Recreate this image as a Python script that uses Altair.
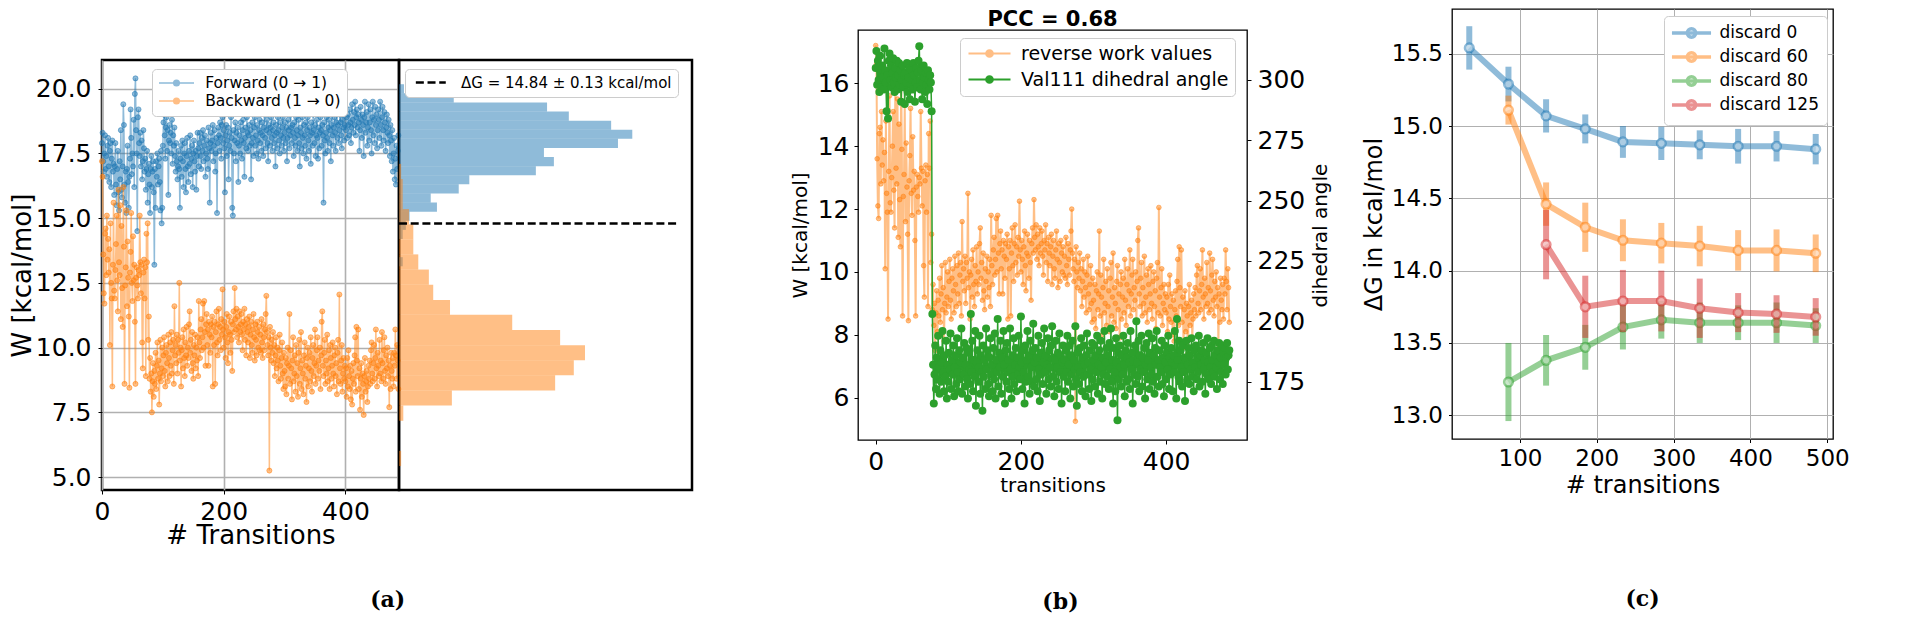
import altair as alt
import pandas as pd

FONT = "DejaVu Sans"
BLUE, ORANGE, GREEN, RED = "#1f77b4", "#ff7f0e", "#2ca02c", "#d62728"

# ---------------- data: panel (a) / (b) work values ----------------
forward_w = [
    17.9, 18.3, 17.2, 16.8, 17.5, 18.2, 16.9, 17.4, 16.6, 17.8, 18.1, 17.0, 16.4, 17.6, 17.9, 16.2, 17.3, 18.0, 16.8, 17.1,
    15.9, 17.0, 17.9, 16.3, 15.5, 16.9, 17.6, 16.0, 15.3, 17.2, 16.5, 18.4, 16.1, 15.8, 17.0, 19.4, 18.6, 16.3, 15.6, 16.8,
    15.2, 16.9, 17.8, 16.4, 15.4, 16.6, 17.3, 19.2, 18.1, 16.7, 17.5, 17.0, 18.8, 16.2, 19.8, 20.4, 18.4, 17.5, 14.5, 18.9,
    19.2, 17.9, 17.4, 18.3, 17.0, 18.0, 16.5, 17.2, 18.4, 17.7, 16.8, 17.3, 16.1, 16.9, 17.6, 15.6, 16.7, 17.1, 16.3, 15.2,
    16.9, 17.4, 16.2, 16.8, 17.2, 16.0, 13.2, 16.9, 15.4, 17.2, 16.6, 17.5, 16.3, 17.0, 17.3, 16.4, 15.3, 17.6, 14.8, 15.4,
    17.8, 18.7, 19.0, 18.2, 17.3, 18.5, 18.9, 17.6, 18.4, 15.9, 18.0, 18.6, 17.9, 18.3, 17.5, 18.8, 17.1, 18.2, 17.8, 18.5,
    17.4, 16.8, 17.9, 17.2, 16.5, 17.0, 17.6, 16.9, 15.4, 17.3, 17.8, 16.6, 18.0, 17.2, 16.2, 17.5, 17.9, 16.9, 16.0, 17.4,
    18.1, 17.0, 16.4, 17.6, 17.1, 18.2, 16.7, 17.3, 17.8, 16.2, 17.5, 18.0, 17.2, 16.8, 17.6, 16.1, 17.4, 18.3, 17.7, 17.0,
    17.9, 18.3, 17.4, 16.9, 18.1, 17.6, 18.4, 17.2, 17.8, 18.2, 16.6, 17.5, 18.0, 17.3, 16.9, 18.5, 17.7, 15.6, 17.9, 18.3,
    17.6, 18.0, 18.6, 17.2, 17.8, 18.4, 16.8, 17.5, 18.1, 15.2, 17.9, 18.5, 18.2, 17.6, 18.7, 18.1, 17.3, 18.6, 18.9, 17.9,
    18.4, 17.7, 16.0, 18.2, 18.6, 17.4, 18.0, 18.5, 16.5, 17.8, 18.3, 17.6, 18.9, 18.1, 15.4, 15.1, 18.4, 17.5, 18.0, 18.7,
    17.2, 18.3, 17.9, 18.5, 16.4, 17.8, 18.2, 17.5, 18.7, 18.0, 17.3, 18.4, 18.8, 17.9, 16.6, 18.1, 18.5, 17.7, 18.9, 18.3,
    17.6, 18.2, 18.6, 17.8, 18.4, 16.5, 17.9, 18.7, 18.1, 17.4, 18.5, 18.9, 17.8, 18.2, 17.5, 18.6, 18.0, 17.3, 18.4, 18.8,
    17.9, 18.3, 17.6, 18.7, 18.2, 17.4, 18.5, 19.0, 18.1, 17.7, 18.4, 18.8, 17.9, 17.2, 18.6, 18.3, 17.8, 18.5, 18.9, 18.1,
    17.6, 18.4, 18.7, 17.9, 18.2, 17.0, 18.6, 18.3, 17.7, 18.9, 18.4, 18.0, 17.5, 18.7, 18.2, 17.8, 18.5, 18.9, 18.1, 17.6,
    18.3, 18.7, 17.9, 18.5, 17.2, 18.1, 18.8, 18.4, 17.7, 18.2, 19.0, 18.5, 17.9, 18.6, 18.3, 17.4, 18.7, 18.1, 17.8, 18.9,
    18.4, 17.6, 18.2, 18.8, 17.9, 17.0, 18.5, 18.3, 17.7, 18.9, 18.1, 17.5, 18.6, 18.2, 17.8, 18.7, 17.3, 18.4, 18.9, 18.0,
    17.6, 18.5, 18.2, 17.1, 18.7, 18.3, 17.8, 19.0, 18.4, 17.9, 18.6, 17.4, 18.2, 18.8, 18.1, 17.3, 18.5, 17.7, 18.3, 18.9,
    18.4, 17.8, 18.6, 18.2, 15.6, 18.7, 18.0, 17.5, 18.3, 18.9, 18.1, 17.6, 18.5, 18.8, 17.9, 18.4, 17.2, 18.6, 19.1, 18.2,
    17.8, 18.5, 18.9, 18.3, 17.6, 18.7, 19.2, 18.1, 18.6, 17.9, 18.4, 19.0, 18.7, 18.2, 17.7, 18.8, 19.1, 18.5, 18.0, 18.6,
    19.3, 18.4, 18.9, 18.1, 19.0, 18.6, 18.2, 19.2, 18.7, 17.9, 18.5, 19.4, 18.8, 18.3, 19.1, 18.6, 19.5, 18.2, 18.9, 19.2,
    18.5, 19.0, 18.7, 17.6, 18.4, 19.3, 18.8, 18.1, 19.0, 18.6, 17.4, 18.9, 19.5, 18.3, 18.7, 19.1, 17.8, 18.5, 19.4, 18.0,
    18.7, 19.2, 18.4, 17.5, 18.9, 19.5, 18.2, 18.8, 17.9, 19.3, 18.6, 19.0, 17.7, 18.4, 19.2, 18.8, 18.1, 19.5, 18.6, 17.8,
    18.9, 19.3, 18.4, 18.0, 19.1, 18.7, 17.6, 18.5, 19.0, 18.3, 17.9, 18.8, 18.2, 17.4, 18.6, 18.0, 17.2, 18.4, 16.8, 17.5,
    18.1, 16.5, 17.3, 16.3, 17.8, 16.9, 17.6, 18.2,
]

backward_w = [
    17.2, 16.6, 13.6, 12.1, 11.7, 14.4, 14.6, 12.8, 15.1, 13.4, 14.2, 12.9, 13.8, 10.1, 14.8, 12.5, 11.9, 8.5, 13.2, 15.6,
    12.2, 11.9, 13.0, 14.0, 15.1, 12.6, 11.4, 16.1, 13.3, 12.8, 15.5, 11.1, 14.7, 12.3, 10.8, 16.2, 13.9, 8.6, 12.4, 13.1,
    15.3, 11.6, 14.1, 12.7, 11.2, 8.45, 12.9, 13.7, 15.2, 12.5, 11.8, 14.3, 12.6, 13.2, 11.0, 8.6, 12.7, 13.1, 12.4, 11.9,
    13.0, 12.8, 15.1, 13.3, 12.1, 13.2, 10.2, 9.2, 12.9, 13.4, 11.9, 13.1, 8.9, 14.4, 13.3, 14.8, 10.3, 11.2, 8.8, 9.6,
    8.3, 9.0, 7.5, 8.7, 9.4, 8.1, 9.1, 8.6, 9.8, 8.4, 9.3, 10.2, 8.8, 9.5, 7.8, 9.0, 10.3, 8.7, 9.2, 10.0,
    8.9, 9.7, 10.4, 9.1, 8.5, 9.8, 10.1, 9.4, 8.7, 10.5, 9.6, 8.9, 10.2, 9.3, 10.6, 9.0, 9.9, 10.3, 8.6, 11.6,
    9.7, 10.1, 9.4, 10.5, 9.0, 10.3, 9.8, 12.5, 9.5, 10.0, 8.5, 9.9, 10.4, 9.2, 10.7, 9.6, 8.9, 10.2, 9.7, 10.8,
    9.3, 10.0, 9.6, 10.9, 11.4, 9.8, 10.3, 9.1, 10.6, 9.4, 8.8, 10.1, 9.7, 10.5, 9.2, 10.0, 9.5, 10.4, 8.9, 11.8,
    10.2, 9.6, 10.7, 11.1, 9.9, 10.4, 11.7, 10.0, 11.8, 10.6, 9.3, 10.9, 11.3, 10.1, 10.7, 9.3, 11.0, 10.5, 9.8, 10.9,
    10.4, 11.2, 8.5, 10.8, 10.1, 11.0, 8.6, 10.6, 11.4, 10.2, 9.7, 10.9, 11.5, 10.3, 10.8, 9.9, 11.1, 10.5, 12.25, 10.7,
    10.0, 11.0, 10.4, 9.6, 10.8, 11.3, 10.2, 9.4, 10.6, 11.2, 10.5, 9.8, 11.0, 10.3, 9.1, 10.9, 11.4, 10.6, 12.3, 11.1,
    10.7, 11.5, 10.4, 11.2, 10.8, 10.2, 11.4, 10.6, 10.9, 11.3, 10.5, 9.9, 11.0, 10.7, 11.5, 10.3, 10.9, 9.7, 11.1, 10.6,
    10.2, 10.8, 11.2, 9.6, 10.5, 11.0, 10.1, 9.8, 10.7, 11.3, 10.4, 9.5, 10.9, 10.3, 9.7, 11.0, 10.6, 10.0, 10.8, 9.9,
    10.5, 9.8, 11.1, 10.2, 9.6, 10.9, 10.4, 9.9, 10.7, 11.3, 12.0, 10.6, 10.1, 9.7, 10.4, 5.25, 10.8, 10.0, 9.5, 10.3,
    9.8, 10.6, 9.4, 10.1, 8.9, 9.7, 10.4, 9.2, 10.0, 9.5, 8.7, 9.9, 10.5, 9.3, 8.8, 9.6, 10.2, 9.0, 8.4, 9.8,
    9.1, 8.5, 9.6, 8.2, 9.4, 10.0, 8.8, 9.3, 11.3, 8.6, 9.9, 9.2, 8.0, 9.5, 10.4, 8.7, 9.0, 9.7, 8.3, 10.1,
    8.9, 9.4, 8.1, 9.8, 10.3, 8.6, 9.2, 10.6, 8.4, 9.5, 9.0, 8.2, 9.7, 10.2, 8.8, 9.3, 7.9, 9.6, 10.0, 8.5,
    9.2, 9.8, 8.7, 10.4, 9.1, 8.3, 9.6, 10.1, 8.9, 9.4, 10.7, 8.6, 9.3, 9.9, 10.4, 8.8, 9.5, 9.1, 10.0, 8.4,
    9.7, 11.0, 11.4, 9.3, 8.9, 9.8, 10.3, 8.6, 9.5, 9.0, 10.5, 8.7, 9.2, 9.9, 8.4, 10.1, 9.6, 8.8, 9.3, 10.2,
    9.0, 8.5, 9.7, 10.0, 8.9, 9.4, 8.2, 9.8, 10.3, 8.7, 12.05, 9.2, 8.6, 9.5, 10.1, 8.3, 9.0, 9.6, 8.8, 9.3,
    8.7, 9.2, 8.1, 9.6, 8.5, 9.9, 8.9, 8.4, 9.3, 8.0, 9.1, 7.8, 8.8, 9.4, 8.6, 9.7, 10.4, 8.3, 10.8, 9.5,
    8.9, 10.7, 8.4, 9.2, 7.6, 8.8, 9.4, 8.1, 9.0, 8.6, 7.4, 8.9, 9.6, 8.3, 8.7, 9.1, 7.9, 8.5, 9.3, 8.8,
    9.5, 8.6, 9.9, 10.2, 9.0, 8.7, 9.4, 10.1, 8.8, 9.6, 10.7, 9.2, 8.5, 9.8, 9.3, 8.9, 10.3, 9.0, 9.5, 8.7,
    10.6, 9.4, 8.8, 9.9, 10.4, 9.1, 8.6, 9.7, 9.2, 10.0, 8.9, 9.5, 7.7, 9.3, 8.4, 9.8, 9.1, 8.8, 9.6, 8.5,
    9.8, 9.3, 10.7, 9.7, 8.8, 10.1, 9.5, 8.4,
]

dihedral_angle = [
    305, 312, 298, 308, 300, 295, 310, 303, 297, 306, 301, 296, 313, 304, 299, 287, 302, 284, 308, 311,
    300, 306, 297, 303, 309, 299, 295, 305, 301, 308, 296, 302, 307, 298, 304, 291, 300, 306, 297, 302,
    290, 303, 299, 307, 295, 301, 305, 292, 298, 304, 300, 296, 307, 302, 291, 299, 305, 297, 303, 308,
    314, 300, 296, 304, 292, 299, 306, 301, 295, 303, 298, 290, 304, 300, 296, 302, 299, 287, 203, 182,
    166, 178, 190, 172, 185, 176, 194, 181, 170, 188, 175, 183, 196, 179, 171, 186, 177, 192, 168, 182,
    175, 187, 180, 195, 172, 184, 178, 190, 169, 181, 186, 174, 193, 179, 171, 188, 176, 183, 197, 170,
    185, 178, 191, 173, 182, 189, 176, 168, 187, 180, 174, 203, 179, 192, 171, 184, 177, 196, 165, 183,
    188, 175, 181, 194, 170, 186, 179, 163, 190, 177, 184, 172, 197, 180, 188, 174, 169, 185, 193, 178,
    182, 171, 189, 176, 195, 168, 184, 179, 201, 173, 187, 181, 192, 170, 185, 177, 196, 182, 166, 188,
    175, 191, 179, 184, 172, 197, 180, 168, 186, 177, 193, 174, 182, 189, 171, 185, 178, 194, 181, 176,
    202, 183, 172, 188, 179, 166, 190, 175, 184, 196, 177, 186, 170, 192, 181, 175, 188, 199, 173, 183,
    189, 176, 185, 171, 194, 180, 167, 187, 178, 191, 174, 183, 197, 179, 186, 170, 182, 193, 176, 188,
    181, 173, 190, 198, 177, 185, 169, 184, 192, 175, 181, 187, 172, 195, 179, 186, 166, 183, 190, 177,
    184, 171, 188, 179, 194, 175, 182, 190, 168, 186, 178, 192, 173, 184, 180, 198, 176, 165, 187, 181,
    174, 189, 179, 193, 171, 185, 177, 190, 182, 169, 186, 195, 178, 183, 172, 188, 180, 167, 191, 176,
    184, 190, 173, 186, 179, 194, 170, 182, 188, 175, 192, 181, 168, 185, 178, 196, 174, 183, 189, 177,
    186, 172, 191, 180, 197, 175, 184, 166, 189, 179, 171, 193, 183, 159, 187, 176, 190, 181, 173, 186,
    178, 194, 182, 169, 188, 175, 185, 191, 176, 183, 172, 196, 180, 187, 166, 184, 178, 190, 174, 200,
    183, 177, 192, 171, 186, 180, 194, 173, 185, 179, 189, 168, 182, 191, 176, 184, 195, 172, 187, 181,
    178, 193, 175, 186, 170, 189, 182, 196, 177, 184, 173, 188, 181, 179, 192, 174, 185, 169, 190, 183,
    176, 187, 180, 194, 172, 185, 178, 189, 183, 171, 186, 179, 196, 182, 168, 201, 184, 177, 192, 175,
    188, 181, 173, 190, 179, 185, 167, 184, 192, 176, 182, 189, 174, 186, 180, 193, 177, 183, 171, 188,
    181, 190, 176, 185, 179, 194, 173, 186, 182, 188, 175, 191, 180, 184, 170, 187, 178, 193, 183, 176,
    189, 181, 174, 190, 184, 179, 192, 177, 186, 181, 172, 188, 183, 191, 176, 185, 179, 190, 174, 187,
    182, 189, 178, 185, 191, 180, 186, 188,
]

# histogram (density), right part
fw_hist_edges = [13.15, 13.51, 13.87, 14.23, 14.59, 14.95, 15.31, 15.67, 16.03, 16.39, 16.75,
                 17.11, 17.47, 17.83, 18.19, 18.55, 18.91, 19.27, 19.63, 19.99, 20.35]
fw_hist_density = [0.006, 0.0, 0.0, 0.006, 0.011, 0.017, 0.061, 0.051, 0.096, 0.113,
                   0.220, 0.249, 0.233, 0.352, 0.375, 0.341, 0.273, 0.238, 0.088, 0.008]
bw_hist_edges = [5.25, 5.85, 6.45, 7.04, 7.64, 8.24, 8.84, 9.43, 10.03, 10.63, 11.23,
                 11.82, 12.42, 13.02, 13.62, 14.21, 14.81, 15.41, 16.00, 16.60, 17.20]
bw_hist_density = [0.0034, 0.0, 0.0, 0.0069, 0.085, 0.251, 0.281, 0.299, 0.259, 0.182,
                   0.082, 0.055, 0.048, 0.031, 0.023, 0.023, 0.016, 0.006, 0.006, 0.0034]
dg_value = 14.84
dg_label = "ΔG = 14.84 ± 0.13 kcal/mol"

a_series = ["Forward (0 → 1)", "Backward (1 → 0)"]
b_series = ["reverse work values", "Val111 dihedral angle"]
b_title = "PCC = 0.68"

# ---------------- data: panel (c) ----------------
c_series = ["discard 0", "discard 60", "discard 80", "discard 125"]
c_transitions = [
    [34, 85, 134, 185, 234, 284, 334, 384, 434, 485],
    [85, 134, 185, 234, 284, 334, 384, 434, 485],
    [85, 134, 185, 234, 284, 334, 384, 434, 485],
    [134, 185, 234, 284, 334, 384, 434, 485],
]
c_dg = [
    [15.54, 15.29, 15.07, 14.98, 14.89, 14.88, 14.87, 14.86, 14.86, 14.84],
    [15.11, 14.46, 14.30, 14.21, 14.19, 14.17, 14.14, 14.14, 14.12],
    [13.23, 13.38, 13.47, 13.61, 13.66, 13.64, 13.64, 13.64, 13.62],
    [14.18, 13.75, 13.79, 13.79, 13.74, 13.71, 13.70, 13.68],
]
c_err = [
    [0.15, 0.12, 0.115, 0.10, 0.11, 0.115, 0.10, 0.12, 0.105, 0.105],
    [0.10, 0.15, 0.17, 0.145, 0.14, 0.14, 0.14, 0.145, 0.13],
    [0.27, 0.175, 0.155, 0.155, 0.13, 0.14, 0.12, 0.14, 0.12],
    [0.24, 0.215, 0.215, 0.21, 0.205, 0.135, 0.13, 0.13],
]
c_colors = [BLUE, ORANGE, GREEN, RED]
panel_labels = ["(a)", "(b)", "(c)"]


# ---------------- helpers ----------------
def circ(r):
    return f"M{r},0A{r},{r} 0 1,1 {-r},0A{r},{r} 0 1,1 {r},0"


def legend_path(half, radii):
    p = f"M{-half},0L{half},0"
    for r in radii:
        p += circ(r)
    return p


def axis(title, values, fs_lab, fs_tit, fmt=None, **kw):
    d = dict(title=title, values=values, labelFontSize=fs_lab, titleFontSize=fs_tit,
             labelFont=FONT, titleFont=FONT, labelColor="black", titleColor="black",
             titleFontWeight="normal", labelFlush=False, labelOverlap=False, domain=False)
    if fmt:
        d["format"] = fmt
    d.update(kw)
    return alt.Axis(**d)


def legend(**kw):
    d = dict(title=None, orient="none", direction="vertical", labelFont=FONT, labelColor="black",
             fillColor="white", strokeColor="#cccccc", cornerRadius=4, labelLimit=500)
    d.update(kw)
    return alt.Legend(**d)


def spacer(h):
    return alt.Chart(pd.DataFrame({"z": [0]})).mark_point(opacity=0).properties(
        width=1, height=h, view=alt.ViewBackground(stroke="transparent"))


def panel_title(text, offset, dx=0):
    return alt.Title(text, orient="bottom", anchor="middle", fontSize=22, font="DejaVu Serif",
                     fontWeight="bold", color="black", offset=offset, dx=dx)


# ---------------- panel (a) left: work values ----------------
ya_scale = alt.Scale(domain=[4.5, 21.11], nice=False, zero=False)
xa = alt.X("t:Q", scale=alt.Scale(domain=[0, 488], nice=False, zero=False),
           axis=axis("# Transitions", [0, 200, 400], 25, 26, grid=True, gridColor="#b0b0b0",
                     gridWidth=1.6, ticks=True, tickSize=4, tickColor="black",
                     labelPadding=5, titlePadding=-2))
ya = alt.Y("w:Q", scale=ya_scale,
           axis=axis("W [kcal/mol]", [5, 7.5, 10, 12.5, 15, 17.5, 20], 25, 26, fmt=".1f",
                     grid=True, gridColor="#b0b0b0", gridWidth=1.6, ticks=True, tickSize=4,
                     tickColor="black", labelPadding=7, titlePadding=0))
ca = alt.Color("s:N", scale=alt.Scale(domain=a_series, range=[BLUE, ORANGE]),
               legend=legend(legendX=50, legendY=9, symbolType=legend_path(2.5, [0.1, 0.25, 0.4]),
                             symbolSize=196, symbolStrokeWidth=1.5, symbolOffset=10.5,
                             labelOffset=20.7, labelFontSize=15.5, rowPadding=1, padding=6))

df_fw = pd.DataFrame({"t": list(range(len(forward_w))), "w": forward_w, "s": a_series[0]})
df_bw = pd.DataFrame({"t": list(range(len(backward_w))), "w": backward_w, "s": a_series[1]})


def a_layers(df, col):
    line = alt.Chart(df).mark_line(strokeWidth=1.5, opacity=0.5).encode(x=xa, y=ya, color=ca)
    pts = alt.Chart(df).mark_point(filled=True, shape="circle", size=26, fill=col, stroke=col,
                                   strokeWidth=1, fillOpacity=0.5, strokeOpacity=0.5,
                                   opacity=1).encode(x=xa, y=ya)
    return [line, pts]


a_sc = alt.layer(*a_layers(df_fw, BLUE), *a_layers(df_bw, ORANGE)).properties(
    width=297, height=430, view=alt.ViewBackground(stroke="black", strokeWidth=2.5))

# ---------------- panel (a) right: histogram ----------------
df_hf = pd.DataFrame({"lo": fw_hist_edges[:-1], "hi": fw_hist_edges[1:], "d": fw_hist_density})
df_hb = pd.DataFrame({"lo": bw_hist_edges[:-1], "hi": bw_hist_edges[1:], "d": bw_hist_density})
xh = alt.X("d:Q", scale=alt.Scale(domain=[0, 0.471], nice=False, zero=False), axis=None)
yh = alt.Y("lo:Q", scale=ya_scale, axis=None)
hist_f = alt.Chart(df_hf).mark_bar(orient="horizontal", color=BLUE, opacity=0.5).encode(
    x=xh, y=yh, y2="hi:Q")
hist_b = alt.Chart(df_hb).mark_bar(orient="horizontal", color=ORANGE, opacity=0.5).encode(
    x=xh, y=yh, y2="hi:Q")
df_dg = pd.DataFrame({"g": [dg_value], "lab": [dg_label]})
rule = alt.Chart(df_dg).mark_rule(strokeWidth=2.5, strokeDash=[8, 3.7]).encode(
    y=alt.Y("g:Q", scale=ya_scale, axis=None),
    x=alt.value(0), x2=alt.value(279),
    color=alt.Color("lab:N", scale=alt.Scale(domain=[dg_label], range=["black"]),
                    legend=legend(legendX=6, legendY=9, symbolType="M-4,0L4,0", symbolSize=56,
                                  symbolStrokeWidth=2.5, symbolDash=[8, 3.7], symbolOffset=12.3,
                                  labelOffset=22.7, labelFontSize=15, padding=6)))
a_hist = alt.layer(hist_f, hist_b, rule).properties(
    width=293, height=430, view=alt.ViewBackground(stroke="black", strokeWidth=2.5))

a_row = alt.hconcat(a_sc, a_hist, spacing=0, bounds="flush").resolve_scale(color="independent")
a_col = alt.vconcat(spacer(51), a_row, spacing=0, bounds="flush",
                    title=panel_title(panel_labels[0], 41, dx=37)).resolve_scale(color="independent")

# ---------------- panel (b) ----------------
xb = alt.X("t:Q", scale=alt.Scale(domain=[-24.4, 511.4], nice=False, zero=False),
           axis=axis("transitions", [0, 200, 400], 25, 20, grid=False, ticks=True, tickSize=4,
                     tickColor="black", labelPadding=5, titlePadding=1))
yb_l = alt.Y("v:Q", scale=alt.Scale(domain=[4.655, 17.695], nice=False, zero=False),
             axis=axis("W [kcal/mol]", [6, 8, 10, 12, 14, 16], 25, 20, orient="left", grid=False,
                       ticks=True, tickSize=4, tickColor="black", labelPadding=5, titlePadding=7))
yb_r = alt.Y("v:Q", scale=alt.Scale(domain=[150.84, 320.7], nice=False, zero=False),
             axis=axis("dihedral angle", [175, 200, 225, 250, 275, 300], 25, 20, orient="right",
                       grid=False, ticks=True, tickSize=4, tickColor="black", labelPadding=6,
                       titlePadding=6, titleAngle=270, titleBaseline="top"))
cb = alt.Color("s:N", scale=alt.Scale(domain=b_series, range=[ORANGE, GREEN]),
               legend=legend(legendX=102, legendY=8,
                             symbolType=legend_path(3.0, [0.1, 0.3, 0.48]), symbolSize=196,
                             symbolStrokeWidth=2, symbolOffset=14, labelOffset=22,
                             labelFontSize=19, rowPadding=6, padding=6))
ob = alt.Opacity("s:N", scale=alt.Scale(domain=b_series, range=[0.5, 1.0]),
                 legend=alt.Legend(title=None))

df_b_w = pd.DataFrame({"t": list(range(len(backward_w))), "v": backward_w, "s": b_series[0]})
df_b_a = pd.DataFrame({"t": list(range(len(dihedral_angle))), "v": dihedral_angle, "s": b_series[1]})

b_left = alt.layer(
    alt.Chart(df_b_w).mark_line(strokeWidth=2).encode(x=xb, y=yb_l, color=cb, opacity=ob),
    alt.Chart(df_b_w).mark_point(filled=True, shape="circle", size=22, fill=ORANGE, stroke=ORANGE,
                                 strokeWidth=1, fillOpacity=0.5, strokeOpacity=0.5,
                                 opacity=1).encode(x=xb, y=yb_l),
)
b_right = alt.layer(
    alt.Chart(df_b_a).mark_line(strokeWidth=1.5).encode(x=xb, y=yb_r, color=cb, opacity=ob),
    alt.Chart(df_b_a).mark_point(filled=True, shape="circle", size=64, fill=GREEN,
                                 opacity=1).encode(x=xb, y=yb_r),
)
b_chart = alt.layer(b_left, b_right).resolve_scale(y="independent").properties(
    width=389, height=410,
    title=alt.Title(b_title, fontSize=21, fontWeight="bold", font=FONT, color="black", offset=0))
b_col = alt.vconcat(spacer(21), b_chart, spacing=0, bounds="flush",
                    title=panel_title(panel_labels[1], 96)).resolve_scale(
    color="independent", opacity="independent")

# ---------------- panel (c) ----------------
xc = alt.X("n:Q", scale=alt.Scale(domain=[11.5, 507.5], nice=False, zero=False),
           axis=axis("# transitions", [100, 200, 300, 400, 500], 23, 24, grid=True,
                     gridColor="#b0b0b0", gridWidth=1, ticks=True, tickSize=3.5,
                     tickColor="black", labelPadding=5, titlePadding=3))
yc_scale = alt.Scale(domain=[12.836, 15.809], nice=False, zero=False)
yc_axis = axis("ΔG in kcal/mol", [13.0, 13.5, 14.0, 14.5, 15.0, 15.5], 23, 24, fmt=".1f",
               grid=True, gridColor="#b0b0b0", gridWidth=1, ticks=True, tickSize=3.5,
               tickColor="black", labelPadding=6, titlePadding=5)
cc = alt.Color("s:N", scale=alt.Scale(domain=c_series, range=c_colors),
               legend=legend(legendX=212, legendY=7, symbolType=legend_path(2.79, [0.6]),
                             symbolSize=196, symbolStrokeWidth=3.5, symbolFillColor="white",
                             symbolOffset=10.5, labelOffset=19, labelFontSize=17,
                             rowPadding=0, padding=8))

c_layers = []
for lab, xs, dg, er, col in zip(c_series, c_transitions, c_dg, c_err, c_colors):
    df = pd.DataFrame({"n": xs, "dg": dg, "err": er, "s": lab})
    base = alt.Chart(df)
    ebar = base.transform_calculate(lo="datum.dg - datum.err", hi="datum.dg + datum.err").mark_rule(
        strokeWidth=6, opacity=0.5, color=col).encode(
        x=xc, y=alt.Y("lo:Q", scale=yc_scale, axis=yc_axis), y2="hi:Q")
    line = base.mark_line(strokeWidth=6, opacity=0.5).encode(
        x=xc, y=alt.Y("dg:Q", scale=yc_scale, axis=yc_axis), color=cc)
    pts = base.mark_point(shape="circle", size=75, filled=True, fill="white", fillOpacity=0.5,
                          stroke=col, strokeOpacity=0.5, strokeWidth=2.5, opacity=1).encode(
        x=xc, y=alt.Y("dg:Q", scale=yc_scale, axis=yc_axis))
    c_layers += [ebar, line, pts]

c_chart = alt.layer(*c_layers).properties(width=381, height=430,
                                          title=panel_title(panel_labels[2], 91))

inner = alt.hconcat(a_col, b_col, spacing=95).resolve_scale(color="independent", opacity="independent")
chart = alt.hconcat(inner, c_chart, spacing=29).resolve_scale(
    color="independent", opacity="independent").properties(padding=0).configure(
    font=FONT).configure_view(stroke="black", strokeWidth=1.3)

chart.save("out.html", embed_options={"renderer": "svg", "actions": False})
